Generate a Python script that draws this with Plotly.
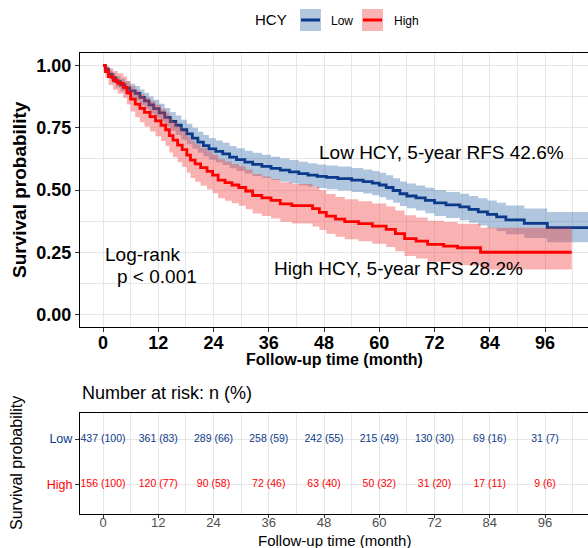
import plotly.graph_objects as go

# ---- Kaplan-Meier estimates (months, survival, 95% CI) ----
low_t = [0, 0.5, 1.2, 2.0, 2.8, 3.8, 4.8, 5.8, 7.0, 8.0, 9.0, 10.0, 11.0, 12.2, 13.4, 14.6,
         15.8, 17.0, 18.2, 19.4, 20.6, 21.8, 23.0, 24.5, 26.0, 27.5, 29.0, 30.8, 32.5, 34.5,
         36.5, 38.5, 40.5, 42.5, 44.5, 46.5, 48.5, 51.0, 54.0, 56.5, 58.5, 60.0, 61.5, 63.0,
         64.5, 66.0, 68.0, 70.0, 72.0, 74.5, 77.5, 79.5, 81.5, 83.5, 85.5, 87.5, 91.5, 96.5, 106.0]
low_s = [1.000, 0.985, 0.965, 0.950, 0.935, 0.922, 0.910, 0.898, 0.888, 0.872, 0.858, 0.842,
         0.827, 0.810, 0.792, 0.775, 0.760, 0.742, 0.725, 0.708, 0.692, 0.678, 0.665, 0.655,
         0.645, 0.632, 0.622, 0.612, 0.603, 0.595, 0.587, 0.580, 0.573, 0.566, 0.560, 0.555,
         0.551, 0.546, 0.540, 0.534, 0.528, 0.520, 0.510, 0.498, 0.485, 0.476, 0.468, 0.458,
         0.448, 0.440, 0.432, 0.422, 0.412, 0.402, 0.392, 0.380, 0.366, 0.349, 0.349]
low_lo = [1.000, 0.973, 0.948, 0.930, 0.912, 0.897, 0.883, 0.870, 0.858, 0.840, 0.825, 0.808,
          0.792, 0.774, 0.755, 0.737, 0.721, 0.702, 0.684, 0.666, 0.650, 0.635, 0.621, 0.611,
          0.600, 0.587, 0.576, 0.566, 0.556, 0.548, 0.540, 0.533, 0.526, 0.519, 0.513, 0.508,
          0.503, 0.498, 0.492, 0.486, 0.479, 0.471, 0.461, 0.449, 0.436, 0.427, 0.418, 0.407,
          0.396, 0.388, 0.379, 0.368, 0.357, 0.346, 0.335, 0.322, 0.307, 0.290, 0.290]
low_hi = [1.000, 0.997, 0.982, 0.970, 0.958, 0.947, 0.937, 0.927, 0.918, 0.904, 0.891, 0.876,
          0.862, 0.846, 0.829, 0.813, 0.799, 0.782, 0.766, 0.750, 0.734, 0.721, 0.709, 0.699,
          0.690, 0.677, 0.668, 0.658, 0.650, 0.642, 0.634, 0.627, 0.620, 0.613, 0.607, 0.602,
          0.598, 0.594, 0.588, 0.582, 0.576, 0.569, 0.559, 0.547, 0.534, 0.526, 0.518, 0.509,
          0.500, 0.492, 0.485, 0.476, 0.467, 0.458, 0.449, 0.438, 0.426, 0.412, 0.412]

high_t = [0, 0.5, 1.2, 2.2, 3.2, 4.4, 5.2, 6.0, 7.0, 8.0, 9.0, 10.2, 11.4, 12.6, 13.6, 14.4,
          15.2, 16.2, 17.2, 18.2, 19.0, 20.0, 21.2, 22.6, 23.8, 25.0, 26.5, 28.0, 29.5, 31.0,
          32.5, 34.5, 36.5, 38.5, 41.0, 45.5, 47.0, 48.5, 50.5, 52.5, 55.5, 58.5, 61.5, 63.5,
          65.5, 68.0, 70.5, 74.0, 77.0, 82.0, 101.8]
high_s = [1.000, 0.975, 0.955, 0.940, 0.928, 0.912, 0.890, 0.865, 0.845, 0.828, 0.812, 0.795,
          0.778, 0.760, 0.742, 0.718, 0.700, 0.680, 0.662, 0.640, 0.620, 0.605, 0.590, 0.575,
          0.560, 0.540, 0.530, 0.520, 0.510, 0.496, 0.478, 0.468, 0.458, 0.444, 0.437, 0.425,
          0.410, 0.395, 0.383, 0.373, 0.365, 0.355, 0.342, 0.325, 0.305, 0.295, 0.282, 0.275,
          0.268, 0.250, 0.250]
high_lo = [1.000, 0.950, 0.922, 0.903, 0.888, 0.869, 0.843, 0.815, 0.792, 0.772, 0.754, 0.735,
           0.716, 0.697, 0.677, 0.651, 0.632, 0.611, 0.592, 0.569, 0.548, 0.533, 0.517, 0.502,
           0.487, 0.467, 0.457, 0.447, 0.437, 0.423, 0.406, 0.396, 0.386, 0.372, 0.365, 0.353,
           0.339, 0.324, 0.312, 0.302, 0.294, 0.284, 0.271, 0.254, 0.235, 0.225, 0.212, 0.205,
           0.198, 0.181, 0.181]
high_hi = [1.000, 0.998, 0.989, 0.978, 0.969, 0.956, 0.938, 0.917, 0.900, 0.886, 0.872, 0.857,
           0.842, 0.826, 0.810, 0.788, 0.772, 0.754, 0.737, 0.716, 0.698, 0.684, 0.670, 0.656,
           0.642, 0.623, 0.614, 0.604, 0.595, 0.581, 0.564, 0.554, 0.544, 0.531, 0.524, 0.513,
           0.499, 0.484, 0.472, 0.463, 0.455, 0.446, 0.434, 0.418, 0.399, 0.390, 0.377, 0.371,
           0.364, 0.348, 0.348]

# ---- Number at risk ----
risk_times = [0, 12, 24, 36, 48, 60, 72, 84, 96]
low_n = [437, 361, 289, 258, 242, 215, 130, 69, 31]
low_pct = [100, 83, 66, 59, 55, 49, 30, 16, 7]
high_n = [156, 120, 90, 72, 63, 50, 31, 17, 9]
high_pct = [100, 77, 58, 46, 40, 32, 20, 11, 6]

x_ticks = [0, 12, 24, 36, 48, 60, 72, 84, 96]
y_ticks = [0, 0.25, 0.5, 0.75, 1.0]

BLUE = "#0B3A8A"
RED = "#FF0000"
BLUE_FILL = "rgba(58,112,172,0.40)"
RED_FILL = "rgba(240,60,60,0.40)"
FONT = "Liberation Sans, Arial, sans-serif"
GRID = "#E6E6E6"

W, H = 588, 548


def px(x):
    return x / W


def py(y):
    return 1 - y / H


fig = go.Figure()


def band(t, lo, hi, fill):
    fig.add_trace(go.Scatter(x=t, y=lo, mode="lines", line=dict(width=0, shape="hv"),
                             showlegend=False, hoverinfo="skip", xaxis="x", yaxis="y"))
    fig.add_trace(go.Scatter(x=t, y=hi, mode="lines", line=dict(width=0, shape="hv"),
                             fill="tonexty", fillcolor=fill, showlegend=False,
                             hoverinfo="skip", xaxis="x", yaxis="y"))


band(low_t, low_lo, low_hi, BLUE_FILL)
fig.add_trace(go.Scatter(x=low_t, y=low_s, mode="lines", name="Low",
                         line=dict(color=BLUE, width=2.8, shape="hv"), showlegend=False))
band(high_t, high_lo, high_hi, RED_FILL)
fig.add_trace(go.Scatter(x=high_t, y=high_s, mode="lines", name="High",
                         line=dict(color=RED, width=2.8, shape="hv"), showlegend=False))

# risk table text
fig.add_trace(go.Scatter(x=risk_times, y=[2] * len(risk_times), mode="text",
                         text=[f"{n} ({p})" for n, p in zip(low_n, low_pct)],
                         textfont=dict(family=FONT, size=10.5, color=BLUE),
                         xaxis="x2", yaxis="y2", showlegend=False, hoverinfo="skip"))
fig.add_trace(go.Scatter(x=risk_times, y=[1] * len(risk_times), mode="text",
                         text=[f"{n} ({p})" for n, p in zip(high_n, high_pct)],
                         textfont=dict(family=FONT, size=10.5, color=RED),
                         xaxis="x2", yaxis="y2", showlegend=False, hoverinfo="skip"))

x_range = [-5.0, 105.34]

fig.update_layout(
    width=W, height=H,
    margin=dict(l=0, r=0, t=0, b=0),
    paper_bgcolor="white", plot_bgcolor="white",
    font=dict(family=FONT, color="black"),
    showlegend=False,
    xaxis=dict(domain=[px(80), 1], range=x_range, tickvals=x_ticks,
               showgrid=True, gridcolor=GRID, gridwidth=1.1,
               minor=dict(dtick=6, tick0=0, showgrid=True, gridcolor=GRID, gridwidth=0.7),
               showline=True, linecolor="black", linewidth=1.3, mirror=True,
               ticks="outside", ticklen=4, tickcolor="#333", ticklabelstandoff=-5,
               tickfont=dict(family=FONT, size=18, color="black", weight="bold"),
               zeroline=False, anchor="y"),
    yaxis=dict(domain=[py(327), py(53)], range=[-0.0502, 1.0502], tickvals=y_ticks,
               tickformat=".2f",
               showgrid=True, gridcolor=GRID, gridwidth=1.1,
               minor=dict(dtick=0.125, tick0=0, showgrid=True, gridcolor=GRID, gridwidth=0.7),
               showline=True, linecolor="black", linewidth=1.3, mirror=False,
               ticks="outside", ticklen=4, tickcolor="#333",
               tickfont=dict(family=FONT, size=18, color="black", weight="bold"),
               zeroline=False, anchor="x"),
    xaxis2=dict(domain=[px(80), 1], range=x_range, tickvals=x_ticks,
                showgrid=True, gridcolor=GRID, gridwidth=1.1,
                minor=dict(dtick=6, tick0=0, showgrid=True, gridcolor=GRID, gridwidth=0.7),
                showline=True, linecolor="black", linewidth=1.3, mirror=True,
                ticks="outside", ticklen=3, tickcolor="#333", ticklabelstandoff=-7,
                tickfont=dict(family=FONT, size=13, color="#4D4D4D"),
                zeroline=False, anchor="y2"),
    yaxis2=dict(domain=[py(514), py(413)], range=[0.36, 2.57], tickvals=[1, 2],
                ticktext=[f"<span style='color:{RED}'>High</span>",
                          f"<span style='color:{BLUE}'>Low</span>"],
                showgrid=True, gridcolor=GRID, gridwidth=1.1,
                showline=True, linecolor="black", linewidth=1.3, mirror=False,
                ticks="outside", ticklen=4, tickcolor="#333",
                tickfont=dict(family=FONT, size=12.5),
                zeroline=False, anchor="x2"),
)


def label(text, x, y, size, xref="paper", yref="paper", xanchor="center", angle=0):
    return dict(text=text, x=x, y=y, xref=xref, yref=yref, xanchor=xanchor,
                yanchor="middle", textangle=angle, showarrow=False,
                font=dict(size=size, family=FONT, color="black"))


ann = [
    # survival panel axis titles
    label("<b>Survival probability</b>", px(19), py(190), 19, angle=-90),
    label("<b>Follow-up time (month)</b>", px(334), py(359), 16),
    # in-plot labels
    label("Low HCY, 5-year RFS 42.6%", 73.6, 0.649, 19, "x", "y"),
    label("High HCY, 5-year RFS 28.2%", 64.1, 0.183, 19, "x", "y"),
    label("Log-rank", 0.0, 0.239, 19, "x", "y", xanchor="left"),
    label("p < 0.001", 2.5, 0.152, 19, "x", "y", xanchor="left"),
    # risk table titles
    label("Number at risk: n (%)", px(80), py(393), 18, xanchor="left"),
    label("Survival probability", px(16), py(463), 16, angle=-90),
    label("Follow-up time (month)", px(334), py(540), 15),
    # legend
    label("HCY", px(271), py(20), 15),
    label("Low", px(329), py(21), 12, xanchor="left"),
    label("High", px(392), py(21), 12, xanchor="left"),
]

shapes = []
for (x0, x1, fill, line) in [(300, 321, "#B3C7DE", BLUE), (362, 383, "#F9B3B3", RED)]:
    shapes.append(dict(type="rect", xref="paper", yref="paper", x0=px(x0), x1=px(x1),
                       y0=py(31), y1=py(9), fillcolor=fill, line=dict(width=0)))
    shapes.append(dict(type="line", xref="paper", yref="paper", x0=px(x0 + 1), x1=px(x1 - 1),
                       y0=py(20), y1=py(20), line=dict(color=line, width=3)))

fig.update_layout(annotations=ann, shapes=shapes)

fig.write_html("out.html")
